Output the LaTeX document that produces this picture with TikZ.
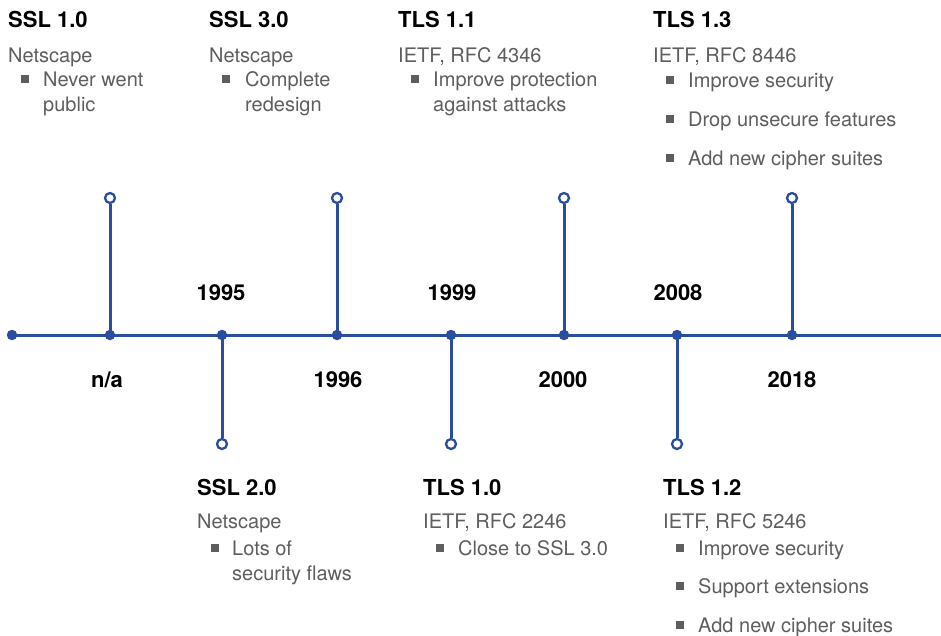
\documentclass[tikz,border=0pt]{standalone}
\usepackage{fontspec}
\setmainfont{TeX Gyre Heros}
\definecolor{axisblue}{HTML}{2A4E9F}
\definecolor{bodygrey}{HTML}{5E5E5E}
\tikzset{
  axisline/.style={draw=axisblue, line width=3pt},
  dotnode/.style={circle, fill=axisblue, inner sep=0pt, minimum size=10.5pt},
  endnode/.style={circle, draw=axisblue, fill=white, line width=2.3pt, inner sep=0pt, minimum size=10pt},
  titletext/.style={anchor=base west, inner sep=0pt, font=\fontsize{22}{26}\selectfont\bfseries, text=black},
  yeartext/.style={anchor=base, inner sep=0pt, font=\fontsize{22}{26}\selectfont\bfseries, text=black},
  bodytext/.style={anchor=base west, inner sep=0pt, font=\fontsize{20}{24}\selectfont, text=bodygrey},
  bulletsq/.style={rectangle, fill=bodygrey, inner sep=0pt, minimum size=8pt},
}
\begin{document}
\begin{tikzpicture}[x=1pt,y=-1pt]
\useasboundingbox (0,0) rectangle (941,635);
% axis
\node[dotnode] (start) at (12,335) {};
\coordinate (axend) at (941,335);
\draw[axisline] (start.center) -- (axend);
% tick dots
\node[dotnode] (d1) at (110,335) {};
\node[dotnode] (d2) at (222,335) {};
\node[dotnode] (d3) at (337,335) {};
\node[dotnode] (d4) at (451,335) {};
\node[dotnode] (d5) at (564,335) {};
\node[dotnode] (d6) at (677,335) {};
\node[dotnode] (d7) at (792,335) {};
% stems
\node[endnode] (e1) at (110,198) {};
\node[endnode] (e2) at (222,444) {};
\node[endnode] (e3) at (337,198) {};
\node[endnode] (e4) at (451,444) {};
\node[endnode] (e5) at (564,198) {};
\node[endnode] (e6) at (677,444) {};
\node[endnode] (e7) at (792,198) {};
\foreach \i in {1,...,7} {\draw[axisline] (d\i.center) -- (e\i);}
% years
\node[yeartext] (y1) at (107,387) {n/a};
\node[yeartext] (y2) at (221,300) {1995};
\node[yeartext] (y3) at (338,387) {1996};
\node[yeartext] (y4) at (452,300) {1999};
\node[yeartext] (y5) at (563,387) {2000};
\node[yeartext] (y6) at (678,300) {2008};
\node[yeartext] (y7) at (792,387) {2018};
% SSL 1.0
\node[titletext] (t1) at (8,27) {SSL 1.0};
\node[bodytext] (o1) at (8,62) {Netscape};
\node[bulletsq] (b1a) at (25,79) {};
\node[bodytext] (l1a) at (43,86) {Never went};
\node[bodytext] (l1b) at (43,111) {public};
% SSL 3.0
\node[titletext] (t3) at (209,27) {SSL 3.0};
\node[bodytext] (o3) at (209,62) {Netscape};
\node[bulletsq] (b3a) at (226,79) {};
\node[bodytext] (l3a) at (245,86) {Complete};
\node[bodytext] (l3b) at (245,111) {redesign};
% TLS 1.1
\node[titletext] (t5) at (398,27) {TLS 1.1};
\node[bodytext] (o5) at (398,62) {IETF, RFC 4346};
\node[bulletsq] (b5a) at (415,79) {};
\node[bodytext] (l5a) at (433,86) {Improve protection};
\node[bodytext] (l5b) at (433,111) {against attacks};
% TLS 1.3
\node[titletext] (t7) at (653,27) {TLS 1.3};
\node[bodytext] (o7) at (653,62) {IETF, RFC 8446};
\node[bulletsq] (b7a) at (670,80) {};
\node[bodytext] (l7a) at (688,87) {Improve security};
\node[bulletsq] (b7b) at (670,119) {};
\node[bodytext] (l7b) at (688,126) {Drop unsecure features};
\node[bulletsq] (b7c) at (670,158) {};
\node[bodytext] (l7c) at (688,165) {Add new cipher suites};
% SSL 2.0
\node[titletext] (t2) at (197,495) {SSL 2.0};
\node[bodytext] (o2) at (197,528) {Netscape};
\node[bulletsq] (b2a) at (215,548) {};
\node[bodytext] (l2a) at (232,555) {Lots of};
\node[bodytext] (l2b) at (232,580) {security flaws};
% TLS 1.0
\node[titletext] (t4) at (423,495) {TLS 1.0};
\node[bodytext] (o4) at (423,528) {IETF, RFC 2246};
\node[bulletsq] (b4a) at (440,548) {};
\node[bodytext] (l4a) at (458,555) {Close to SSL 3.0};
% TLS 1.2
\node[titletext] (t6) at (663,495) {TLS 1.2};
\node[bodytext] (o6) at (663,528) {IETF, RFC 5246};
\node[bulletsq] (b6a) at (680,548) {};
\node[bodytext] (l6a) at (698,555) {Improve security};
\node[bulletsq] (b6b) at (680,586) {};
\node[bodytext] (l6b) at (698,593) {Support extensions};
\node[bulletsq] (b6c) at (680,625) {};
\node[bodytext] (l6c) at (698,632) {Add new cipher suites};
\end{tikzpicture}
\end{document}
